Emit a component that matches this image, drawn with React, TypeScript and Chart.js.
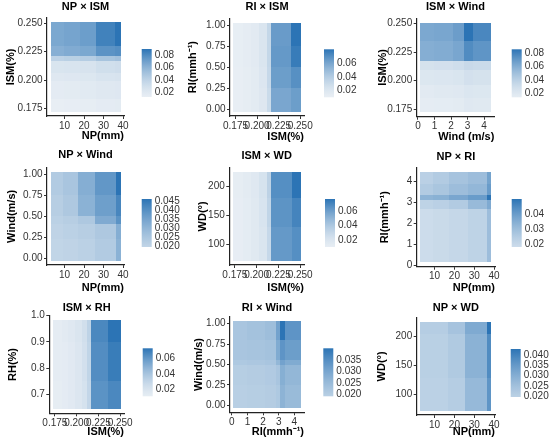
import { useEffect, useRef } from 'react'
import { Chart, ScatterController, PointElement, LinearScale, Title } from 'chart.js'

Chart.register(ScatterController, PointElement, LinearScale, Title)

// tile edges (first/last = extent of the tiles) and values, rows bottom -> top
const p1X = [2.75, 9.5, 18, 26, 35.8, 38.7]
const p1Y = [0.1725, 0.1831, 0.1991, 0.2064, 0.2165, 0.2209, 0.2296, 0.2505]
const p1Z = [
  [0.012, 0.013, 0.014, 0.016, 0.017],
  [0.016, 0.017, 0.018, 0.020, 0.021],
  [0.020, 0.021, 0.022, 0.025, 0.026],
  [0.024, 0.025, 0.026, 0.030, 0.031],
  [0.040, 0.042, 0.044, 0.050, 0.052],
  [0.062, 0.064, 0.066, 0.076, 0.078],
  [0.066, 0.068, 0.071, 0.084, 0.090],
]
const p1Bar = [0.02, 0.04, 0.06, 0.08]

const p2X = [0.1725, 0.184, 0.193, 0.202, 0.2117, 0.2164, 0.2398, 0.2505]
const p2Y = [-0.03, 0.25, 0.5, 0.75, 1.03]
const p2Z = [
  [0.010, 0.012, 0.015, 0.019, 0.030, 0.060, 0.064],
  [0.010, 0.012, 0.015, 0.020, 0.032, 0.064, 0.070],
  [0.011, 0.013, 0.016, 0.021, 0.033, 0.066, 0.078],
  [0.011, 0.013, 0.016, 0.021, 0.033, 0.065, 0.081],
]
const p2Bar = [0.02, 0.04, 0.06]

const p3X = [0.14, 0.99, 2.1, 2.8, 3.33, 4.4]
const p3Y = [0.1725, 0.1845, 0.196, 0.2089, 0.2175, 0.235, 0.2505]
const p3Z = [
  [0.014, 0.015, 0.016, 0.019, 0.018],
  [0.017, 0.018, 0.019, 0.022, 0.021],
  [0.021, 0.022, 0.023, 0.027, 0.026],
  [0.026, 0.027, 0.029, 0.033, 0.032],
  [0.060, 0.061, 0.064, 0.076, 0.072],
  [0.063, 0.064, 0.068, 0.086, 0.078],
]
const p3Bar = [0.02, 0.04, 0.06, 0.08]

const p4X = [2.75, 9.1, 17.1, 25.7, 36.2, 38.7]
const p4Y = [-0.03, 0.227, 0.404, 0.5, 0.757, 1.03]
const p4Z = [
  [0.0195, 0.020, 0.021, 0.023, 0.031],
  [0.020, 0.021, 0.022, 0.024, 0.032],
  [0.021, 0.022, 0.024, 0.033, 0.039],
  [0.022, 0.024, 0.031, 0.036, 0.042],
  [0.023, 0.025, 0.032, 0.038, 0.046],
]
const p4Bar = [0.02, 0.025, 0.03, 0.035, 0.04, 0.045]

const p5X = [0.1725, 0.184, 0.193, 0.2025, 0.2117, 0.2165, 0.2405, 0.2505]
const p5Y = [72, 130, 180, 224]
const p5Z = [
  [0.011, 0.013, 0.016, 0.020, 0.030, 0.062, 0.066],
  [0.011, 0.013, 0.016, 0.021, 0.032, 0.064, 0.070],
  [0.012, 0.014, 0.017, 0.022, 0.034, 0.066, 0.076],
]
const p5Bar = [0.02, 0.04, 0.06]

const p6X = [2.75, 9.2, 17.4, 26.8, 36.5, 38.7]
const p6Y = [0.15, 2.7, 3.12, 3.35, 3.89, 4.45]
const p6Z = [
  [0.018, 0.019, 0.020, 0.022, 0.030],
  [0.022, 0.023, 0.025, 0.031, 0.036],
  [0.033, 0.034, 0.037, 0.040, 0.050],
  [0.025, 0.027, 0.030, 0.032, 0.040],
  [0.023, 0.025, 0.028, 0.030, 0.038],
]
const p6Bar = [0.02, 0.03, 0.04]

const p7X = [0.1725, 0.1828, 0.1904, 0.1981, 0.2058, 0.2115, 0.216, 0.2364, 0.2505]
const p7Y = [0.644, 0.75, 0.9, 0.983]
const p7Z = [
  [0.0115, 0.013, 0.015, 0.018, 0.022, 0.030, 0.062, 0.066],
  [0.012, 0.013, 0.015, 0.018, 0.023, 0.031, 0.064, 0.070],
  [0.012, 0.014, 0.016, 0.019, 0.024, 0.032, 0.066, 0.073],
]
const p7Bar = [0.02, 0.04, 0.06]

const p8X = [0.1, 1.0, 2.1, 2.8, 3.1, 3.4, 4.4]
const p8Y = [-0.03, 0.25, 0.5, 0.55, 0.8, 1.03]
const p8Z = [
  [0.019, 0.0195, 0.020, 0.021, 0.027, 0.025],
  [0.0195, 0.020, 0.0205, 0.022, 0.028, 0.026],
  [0.021, 0.0215, 0.022, 0.026, 0.031, 0.029],
  [0.022, 0.0225, 0.023, 0.029, 0.034, 0.032],
  [0.022, 0.023, 0.024, 0.031, 0.0405, 0.034],
]
const p8Bar = [0.02, 0.025, 0.03, 0.035]

const p9X = [2.75, 16.6, 25.3, 36.3, 38.7]
const p9Y = [72, 128, 203, 224]
const p9Z = [
  [0.0195, 0.021, 0.027, 0.036],
  [0.020, 0.022, 0.029, 0.038],
  [0.021, 0.024, 0.031, 0.043],
]
const p9Bar = [0.02, 0.025, 0.03, 0.035, 0.04]

// tick values
const npTicks = [10, 20, 30, 40]
const ismTicks = [0.175, 0.2, 0.225, 0.25]
const unitTicks = [0, 0.25, 0.5, 0.75, 1]
const fourTicks = [0, 1, 2, 3, 4]
const wdTicks = [100, 150, 200]
const rhTicks = [0.7, 0.8, 0.9, 1.0]

type Axis = { title: string; ticks: number[]; dec: number }
const NP: Axis = { title: 'NP(mm)', ticks: npTicks, dec: 0 }
const ISM: Axis = { title: 'ISM(%)', ticks: ismTicks, dec: 3 }
const RI01: Axis = { title: 'RI(mmh⁻¹)', ticks: unitTicks, dec: 2 }
const RI: Axis = { title: 'RI(mmh⁻¹)', ticks: fourTicks, dec: 0 }
const WINDX: Axis = { title: 'Wind (m/s)', ticks: fourTicks, dec: 0 }
const WIND01: Axis = { title: 'Wind(m/s)', ticks: unitTicks, dec: 2 }
const WD: Axis = { title: 'WD(°)', ticks: wdTicks, dec: 0 }
const RH: Axis = { title: 'RH(%)', ticks: rhTicks, dec: 1 }

const LOW = [238, 242, 246]
const HIGH = [44, 116, 181]
const TICK_FONT = "'Liberation Sans Narrow', 'Liberation Sans', Arial, sans-serif"
const BOLD_FONT = "'Liberation Sans', Arial, sans-serif"

type Lay = { ax: number; at: number; ab: number; pr: number; ty: number; xt: number; yt: number; cbx: number; cby: number }
type PanelDef = {
  title: string; x: Axis; y: Axis; xs: number[]; ys: number[]; z: number[][]
  bar: number[]; barDec: number; box: number[]; lay: Lay
}

const panels: PanelDef[] = [
  { title: 'NP × ISM', x: NP, y: ISM, xs: p1X, ys: p1Y, z: p1Z, bar: p1Bar, barDec: 2, box: [0, 0, 180, 145],
    lay: { ax: 47, at: 18, ab: 116, pr: 124, ty: 7, xt: 136, yt: 11, cbx: 141.7, cby: 49 } },
  { title: 'RI × ISM', x: ISM, y: RI01, xs: p2X, ys: p2Y, z: p2Z, bar: p2Bar, barDec: 2, box: [180, 0, 185, 145],
    lay: { ax: 50, at: 18.3, ab: 116, pr: 124, ty: 7, xt: 136.7, yt: 13.3, cbx: 144, cby: 49.3 } },
  { title: 'ISM × Wind', x: WINDX, y: ISM, xs: p3X, ys: p3Y, z: p3Z, bar: p3Bar, barDec: 2, box: [365, 0, 185, 145],
    lay: { ax: 51.7, at: 18.3, ab: 116.7, pr: 129.3, ty: 7, xt: 136.7, yt: 18.3, cbx: 146.7, cby: 49.3 } },
  { title: 'NP × Wind', x: NP, y: WIND01, xs: p4X, ys: p4Y, z: p4Z, bar: p4Bar, barDec: 3, box: [0, 145, 180, 150],
    lay: { ax: 47, at: 22.7, ab: 120, pr: 124, ty: 10, xt: 143.4, yt: 11.7, cbx: 141.7, cby: 54 } },
  { title: 'ISM × WD', x: ISM, y: WD, xs: p5X, ys: p5Y, z: p5Z, bar: p5Bar, barDec: 2, box: [180, 145, 185, 150],
    lay: { ax: 49.3, at: 22.7, ab: 120, pr: 124, ty: 10.7, xt: 143.4, yt: 22.7, cbx: 145, cby: 54 } },
  { title: 'NP × RI', x: NP, y: RI, xs: p6X, ys: p6Y, z: p6Z, bar: p6Bar, barDec: 2, box: [365, 145, 185, 150],
    lay: { ax: 51.7, at: 22.7, ab: 121.7, pr: 130, ty: 11.7, xt: 143.3, yt: 20, cbx: 146.7, cby: 54 } },
  { title: 'ISM × RH', x: ISM, y: RH, xs: p7X, ys: p7Y, z: p7Z, bar: p7Bar, barDec: 2, box: [0, 295, 180, 149],
    lay: { ax: 49.3, at: 20.7, ab: 118.3, pr: 124, ty: 12.7, xt: 136.7, yt: 12.7, cbx: 142.7, cby: 53.3 } },
  { title: 'RI × Wind', x: { ...RI, ticks: fourTicks }, y: WIND01, xs: p8X, ys: p8Y, z: p8Z, bar: p8Bar, barDec: 3, box: [180, 295, 185, 149],
    lay: { ax: 50, at: 21.7, ab: 117.3, pr: 124, ty: 12.7, xt: 136.7, yt: 19.3, cbx: 143.3, cby: 53.3 } },
  { title: 'NP × WD', x: NP, y: WD, xs: p9X, ys: p9Y, z: p9Z, bar: p9Bar, barDec: 3, box: [365, 295, 185, 149],
    lay: { ax: 51.7, at: 22.7, ab: 120, pr: 130, ty: 12.7, xt: 136.7, yt: 16.7, cbx: 145.7, cby: 54 } },
]

function shade(v: number, top: number) {
  const t = Math.pow(Math.min(1, Math.max(0, v / top)), 1.7)
  const c = LOW.map((l, k) => Math.round(l + (HIGH[k] - l) * t))
  return `rgb(${c[0]},${c[1]},${c[2]})`
}

// ggplot-like 5% expansion around the tile extent
function expand(edges: number[]) {
  const a = edges[0], b = edges[edges.length - 1], d = (b - a) * 0.05
  return [a - d, b + d]
}

const LH = 13.2

function axisOptions(axis: Axis, edges: number[], horizontal: boolean, p: PanelDef) {
  const [min, max] = expand(edges)
  const L = p.lay
  const h = p.box[3]
  return {
    type: 'linear' as const,
    min, max,
    afterBuildTicks: (s: any) => { s.ticks = axis.ticks.map((value) => ({ value })) },
    afterFit: (s: any) => {
      if (horizontal) s.height = h - L.ab
      else s.width = L.ax
    },
    ticks: {
      autoSkip: false, maxRotation: 0, minRotation: 0,
      padding: horizontal ? 1 : 1.5,
      color: '#333',
      font: { family: TICK_FONT, size: 10 },
      callback: (v: any) => Number(v).toFixed(axis.dec),
    },
    grid: { drawOnChartArea: false, drawTicks: true, tickLength: 3, color: '#333', lineWidth: 1 },
    border: { display: true, color: '#222', width: 1.2 },
    title: {
      display: true,
      text: axis.title,
      align: horizontal ? ('end' as const) : ('center' as const),
      color: '#000',
      font: { family: BOLD_FONT, size: 11, weight: 'bold' as const },
      padding: horizontal
        ? { top: 0, bottom: Math.max(0, h - L.xt - LH / 2) }
        : { top: Math.max(0, L.yt - LH / 2), bottom: 0 },
    },
  }
}

function Panel({ p }: { p: PanelDef }) {
  const canvasRef = useRef<HTMLCanvasElement>(null)

  useEffect(() => {
    const canvas = canvasRef.current
    if (!canvas) return
    const L = p.lay
    const w = p.box[2]
    const all = p.z.flat()
    const lo = Math.min(...all)
    const hi = Math.max(...all)

    const tiles = {
      id: 'tiles',
      beforeDatasetsDraw(chart: Chart) {
        const { ctx } = chart
        const xs = chart.scales.x
        const ys = chart.scales.y
        p.z.forEach((row, i) => row.forEach((v, j) => {
          const x0 = Math.round(xs.getPixelForValue(p.xs[j]))
          const x1 = Math.round(xs.getPixelForValue(p.xs[j + 1]))
          const y0 = Math.round(ys.getPixelForValue(p.ys[i + 1]))
          const y1 = Math.round(ys.getPixelForValue(p.ys[i]))
          ctx.fillStyle = shade(v, hi)
          ctx.fillRect(x0, y0, x1 - x0, y1 - y0)
        }))
      },
    }

    const colorbar = {
      id: 'colorbar',
      afterDraw(chart: Chart) {
        const { ctx } = chart
        const bw = 10, bh = 48
        const g = ctx.createLinearGradient(0, L.cby + bh, 0, L.cby)
        for (let s = 0; s <= 20; s++) g.addColorStop(s / 20, shade(lo + ((hi - lo) * s) / 20, hi))
        ctx.save()
        ctx.fillStyle = g
        ctx.fillRect(L.cbx, L.cby, bw, bh)
        ctx.font = `10px ${TICK_FONT}`
        ctx.fillStyle = '#333'
        ctx.textAlign = 'left'
        ctx.textBaseline = 'middle'
        p.bar.forEach((v) => {
          const yy = L.cby + bh - ((v - lo) / (hi - lo)) * bh
          ctx.fillText(v.toFixed(p.barDec), L.cbx + bw + 3, yy)
        })
        ctx.restore()
      },
    }

    const chart = new Chart(canvas, {
      type: 'scatter',
      data: { datasets: [] },
      options: {
        animation: false,
        responsive: true,
        maintainAspectRatio: false,
        layout: { padding: { left: 0, top: 0, bottom: 0, right: w - L.pr } },
        plugins: {
          title: {
            display: true,
            text: p.title,
            fullSize: false,
            color: '#000',
            font: { family: BOLD_FONT, size: 11, weight: 'bold' },
            padding: { top: Math.max(0, L.ty - LH / 2), bottom: Math.max(0, L.at - L.ty - LH / 2) },
          },
        },
        scales: {
          x: axisOptions(p.x, p.xs, true, p) as any,
          y: axisOptions(p.y, p.ys, false, p) as any,
        },
      },
      plugins: [tiles, colorbar],
    })

    return () => chart.destroy()
  }, [p])

  return (
    <div style={{ position: 'absolute', left: p.box[0], top: p.box[1], width: p.box[2], height: p.box[3] }}>
      <canvas ref={canvasRef} />
    </div>
  )
}

export default function App() {
  return (
    <div style={{ position: 'absolute', left: 0, top: 0, width: 550, height: 444, background: '#fff', overflow: 'hidden' }}>
      {panels.map((p) => <Panel key={p.title} p={p} />)}
    </div>
  )
}
